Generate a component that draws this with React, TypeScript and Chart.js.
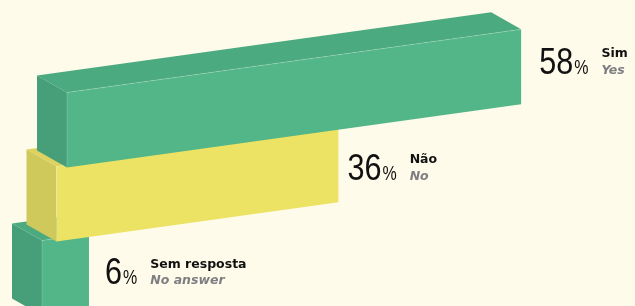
import React, { useEffect, useRef } from "react";
import { Chart, registerables } from "chart.js";

Chart.register(...registerables);

// ---- data ----
const categories = ["Sim", "Não", "Sem resposta"];
const englishLabels = ["Yes", "No", "No answer"];
const values = [58, 36, 6];
const axisMax = 70;

// ---- layout / style ----
const W = 635;
const H = 306;
const CANVAS_H = 330;
const BG = "#fefbea";
const SLOPE = 0.139;
const DEPTH_DX = -30;
const DEPTH_DY = -17;
const BAR_SHIFT = [0, -10.5, -25];
const LABEL_GAP = [18, 9, 16];
const LABEL_DY = [7, 15, 13];
const PX_PER_UNIT = 7.83;
const AREA_LEFT = 67;
const AREA_TOP = 93;
const AREA_BOTTOM = 315;
const NUM_SX = 0.85;
const PCT_SX = 0.8;

const palettes = [
  { front: "#52b688", top: "#4caa80", side: "#469f79" },
  { front: "#ece364", top: "#ddd35e", side: "#cfc85a" },
  { front: "#52b688", top: "#4caa80", side: "#469f79" },
];

const NUM_FONT = '36px "Liberation Sans", Arial, sans-serif';
const PCT_FONT = '20px "Liberation Sans", Arial, sans-serif';
const PT_FONT = 'bold 12.5px "DejaVu Sans", sans-serif';
const EN_FONT = 'italic bold 12.5px "DejaVu Sans", sans-serif';

type P = [number, number];

function poly(ctx: CanvasRenderingContext2D, pts: P[], color: string) {
  ctx.beginPath();
  ctx.moveTo(pts[0][0], pts[0][1]);
  for (let k = 1; k < pts.length; k++) ctx.lineTo(pts[k][0], pts[k][1]);
  ctx.closePath();
  ctx.fillStyle = color;
  ctx.fill();
}

function seg(ctx: CanvasRenderingContext2D, a: P, b: P, color: string) {
  ctx.beginPath();
  ctx.moveTo(a[0], a[1]);
  ctx.lineTo(b[0], b[1]);
  ctx.strokeStyle = color;
  ctx.lineWidth = 1;
  ctx.stroke();
}

function scaledText(ctx: CanvasRenderingContext2D, text: string, x: number, y: number, sx: number) {
  ctx.save();
  ctx.translate(x, y);
  ctx.scale(sx, 1);
  ctx.fillText(text, 0, 0);
  const w = ctx.measureText(text).width * sx;
  ctx.restore();
  return w;
}

const bar3d = {
  id: "bar3d",
  beforeDatasetsDraw(chart: any) {
    const ctx: CanvasRenderingContext2D = chart.ctx;
    const meta = chart.getDatasetMeta(0);
    const x0 = chart.chartArea.left;
    const n = meta.data.length;
    const pt = (x: number, y: number, i: number): P => [x + BAR_SHIFT[i], y - SLOPE * (x - x0)];
    const d = (p: P): P => [p[0] + DEPTH_DX, p[1] + DEPTH_DY];
    ctx.save();
    for (let i = n - 1; i >= 0; i--) {
      const el = meta.data[i];
      const { x, y, base, height } = el.getProps(["x", "y", "base", "height"], true);
      const top = y - height / 2;
      const bot = y + height / 2;
      const ftl = pt(base, top, i);
      const ftr = pt(x, top, i);
      const fbr = pt(x, bot, i);
      const fbl = pt(base, bot, i);
      const pal = palettes[i];
      poly(ctx, [d(ftl), d(ftr), ftr, ftl], pal.top);
      poly(ctx, [d(ftl), ftl, fbl, d(fbl)], pal.side);
      poly(ctx, [ftl, ftr, fbr, fbl], pal.front);
      seg(ctx, ftl, ftr, "rgba(255,255,255,0.18)");
      seg(ctx, ftl, fbl, "rgba(255,255,255,0.18)");
    }
    // labels
    for (let i = 0; i < n; i++) {
      const el = meta.data[i];
      const { x, y } = el.getProps(["x", "y"], true);
      const r = pt(x, y, i);
      const nx = r[0] + LABEL_GAP[i];
      const by = r[1] + LABEL_DY[i];
      ctx.textBaseline = "alphabetic";
      ctx.textAlign = "left";
      ctx.fillStyle = "#111111";
      ctx.font = NUM_FONT;
      const wn = scaledText(ctx, String(values[i]), nx, by, NUM_SX);
      ctx.font = PCT_FONT;
      const wp = scaledText(ctx, "%", nx + wn + 1, by, PCT_SX);
      const lx = nx + wn + 1 + wp + 13;
      ctx.font = PT_FONT;
      ctx.fillStyle = "#111111";
      ctx.fillText(categories[i], lx, by - 16.5);
      ctx.font = EN_FONT;
      ctx.fillStyle = "#7e7e82";
      ctx.fillText(englishLabels[i], lx, by);
    }
    ctx.restore();
    return false;
  },
};

export default function App() {
  const ref = useRef<HTMLCanvasElement | null>(null);
  useEffect(() => {
    if (!ref.current) return;
    const chart = new Chart(ref.current, {
      type: "bar",
      data: {
        labels: categories,
        datasets: [
          {
            data: values,
            backgroundColor: palettes.map((p) => p.front),
            barThickness: 75,
            categoryPercentage: 1,
            barPercentage: 1,
          },
        ],
      },
      options: {
        indexAxis: "y",
        animation: false,
        responsive: false,
        maintainAspectRatio: false,
        devicePixelRatio: 1,
        layout: {
          padding: {
            left: AREA_LEFT,
            right: W - AREA_LEFT - PX_PER_UNIT * axisMax,
            top: AREA_TOP,
            bottom: CANVAS_H - AREA_BOTTOM,
          },
        },
        scales: {
          x: { display: false, min: 0, max: axisMax },
          y: { display: false, offset: true },
        },
        plugins: {
          legend: { display: false },
          tooltip: { enabled: false },
        },
      },
      plugins: [bar3d],
    } as any);
    return () => chart.destroy();
  }, []);
  return (
    <div
      style={{
        position: "fixed",
        left: 0,
        top: 0,
        width: W,
        height: H,
        overflow: "hidden",
        background: BG,
      }}
    >
      <canvas ref={ref} width={W} height={CANVAS_H} style={{ display: "block" }} />
    </div>
  );
}
